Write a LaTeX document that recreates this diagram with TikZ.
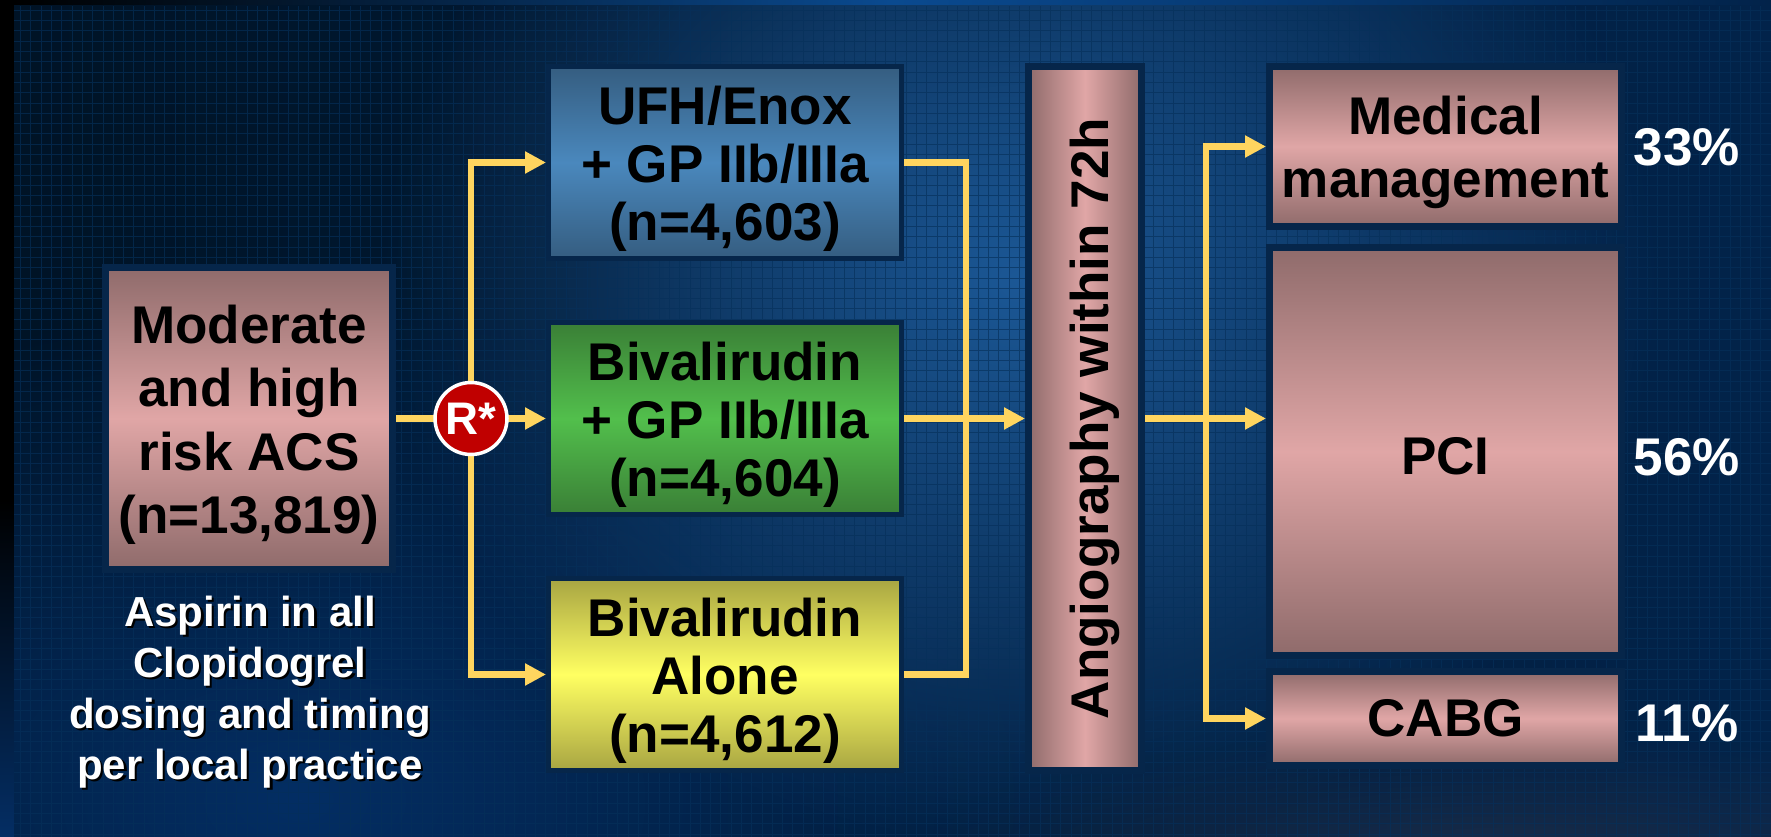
\documentclass[tikz,border=0pt]{standalone}
\usepackage{fontspec}
\setmainfont{Liberation Sans}
\usetikzlibrary{arrows.meta,fadings}

\definecolor{framecol}{HTML}{06264A}
\definecolor{linkcol}{HTML}{FFD55F}
\definecolor{gridcol}{HTML}{06305A}
\definecolor{pinkdark}{HTML}{8F6B6B}
\definecolor{pinklight}{HTML}{E0A6A6}
\definecolor{armblue}{HTML}{355D80}
\definecolor{armbluemid}{HTML}{4A88BD}
\definecolor{armgreen}{HTML}{3A7F36}
\definecolor{armgreenmid}{HTML}{52BF4C}
\definecolor{armyellow}{HTML}{A8A542}
\definecolor{armyellowmid}{HTML}{FFFF62}
\definecolor{bgdark}{HTML}{001326}
\definecolor{bgright}{HTML}{02234A}
\definecolor{bgglow}{HTML}{1C5896}
\definecolor{bglow}{HTML}{042E64}
\definecolor{bgswoosh}{HTML}{1A2C48}
\definecolor{stripmid}{HTML}{0A4A90}
\definecolor{randred}{HTML}{C00000}
\def\px{0.02cm}
\newcommand{\topgap}[1][29pt]{\rule{0pt}{#1}}

\tikzfading[name=glowfade, inner color=transparent!0, outer color=transparent!100]

\tikzset{
  boxtext/.style={font=\fontsize{30.2}{33}\selectfont\bfseries, text=black, align=center, inner sep=0pt},
  pinkshade/.style={boxtext, draw=framecol, line width=7*\px, font=\fontsize{30.2}{35.9}\selectfont\bfseries,
    top color=pinkdark, bottom color=pinkdark, middle color=pinklight},
  armbox/.style 2 args={boxtext, draw=framecol, line width=5*\px, minimum width=353*\px, minimum height=192*\px,
    top color=#1, bottom color=#1, middle color=#2},
  notetext/.style={font=\fontsize{23.9}{29}\selectfont\bfseries, align=center, inner sep=0pt},
  percent/.style={font=\fontsize{30.2}{33}\selectfont\bfseries, text=white, inner sep=0pt},
  link/.style={draw=linkcol, line width=0.125cm},
  arrowlink/.style={link, -{Triangle[length=0.42cm, width=0.42cm]}},
  gridline/.style={draw=gridcol, line width=0.018cm, opacity=.65},
}

\begin{document}
\begin{tikzpicture}[x=0.02cm, y=-0.02cm]
  \useasboundingbox (0,0) rectangle (1771,837);

  % Backdrop
  \fill[black] (0,0) rectangle (1771,837);
  \shade[top color=black, bottom color=bglow] (0,500) rectangle (14,837);
  \shade[left color=black, right color=bgright, middle color=stripmid] (14,0) rectangle (1771,6);
  \begin{scope}
    \clip (14,6) rectangle (1771,837);
    \shade[left color=bgdark, right color=bgright] (14,6) rectangle (1771,837);
    \fill[bglow, path fading=glowfade] (300,800) ellipse (800 and 500);
    \fill[bgglow, path fading=glowfade] (1020,280) ellipse (640 and 580);
    \fill[bgswoosh, path fading=glowfade] (1500,860) ellipse (600 and 130);
    \draw[gridline, step=0.206cm] (14,6) grid (1771,837);
  \end{scope}

  % Entry box and note
  \node[pinkshade, minimum width=287*\px, minimum height=302*\px] (moderate) at (249,418.5)
    {\topgap Moderate\\and high\\risk ACS\\(n=13,819)};
  \node[notetext, text=black] (noteshadow) at (252.5,694.5)
    {Aspirin in all\\Clopidogrel\\dosing and timing\\per local practice};
  \node[notetext, text=white] (note) at (250,692)
    {Aspirin in all\\Clopidogrel\\dosing and timing\\per local practice};

  % Treatment arms
  \node[armbox={armblue}{armbluemid}] (ufh) at (725,162.5) {\topgap UFH/Enox\\+ GP IIb/IIIa\\(n=4,603)};
  \node[armbox={armgreen}{armgreenmid}] (bivgp) at (725,418.5) {\topgap Bivalirudin\\+ GP IIb/IIIa\\(n=4,604)};
  \node[armbox={armyellow}{armyellowmid}] (bivalone) at (725,674.5) {\topgap Bivalirudin\\Alone\\(n=4,612)};

  % Angiography box
  \node[pinkshade, rotate=90, shading angle=90, minimum width=703*\px, minimum height=113*\px] (angio) at (1085,418.5)
    {\topgap[33pt]Angiography within 72h};

  % Outcome boxes
  \node[pinkshade, minimum width=352*\px, minimum height=160*\px] (medical) at (1445.5,146.5) {\topgap Medical\\management};
  \node[pinkshade, minimum width=352*\px, minimum height=408*\px] (pci) at (1445.5,451.5) {\topgap[26pt]PCI};
  \node[pinkshade, minimum width=352*\px, minimum height=94*\px] (cabg) at (1445.5,718.5) {CABG};

  \node[percent] (pctmedical) at (1687,147) {33\%};
  \node[percent] (pctpci) at (1687,457) {56\%};
  \node[percent] (pctcabg) at (1687,723) {11\%};

  % Links
  \coordinate (merge) at (966,418.5);
  \coordinate (split) at (1206,418.5);
  \coordinate (rand) at (471,418.5);
  \draw[link] (moderate.east) -- (rand);
  \draw[arrowlink] (rand) -- (bivgp.west);
  \draw[arrowlink] (rand) |- (ufh.west);
  \draw[arrowlink] (rand) |- (bivalone.west);
  \draw[link] (ufh.east) -| (merge);
  \draw[link] (bivalone.east) -| (merge);
  \draw[arrowlink] (bivgp.east) -- (angio.north);
  \draw[arrowlink] (angio.south) -- (pci.west |- split);
  \draw[arrowlink] (split) |- (medical.west);
  \draw[arrowlink] (split) |- (cabg.west);

  % Randomisation mark
  \node[circle, draw=white, line width=3.5*\px, fill=randred, text=white, inner sep=0pt,
    minimum size=72*\px, font=\fontsize{26}{28}\selectfont\bfseries] (randmark) at (rand) {R*};
\end{tikzpicture}
\end{document}
